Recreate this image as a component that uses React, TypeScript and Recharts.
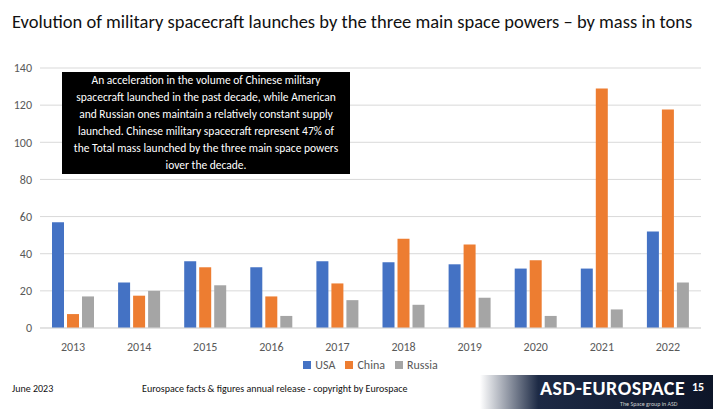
import React from "react";
import { BarChart, Bar, XAxis, YAxis, CartesianGrid, Legend } from "recharts";

const years = ["2013","2014","2015","2016","2017","2018","2019","2020","2021","2022"];
const usa = [57,24.5,36,32.7,36,35.4,34.3,32,32,52];
const china = [7.5,17.4,32.7,17,24,48,45,36.5,129,117.6];
const russia = [17,20,23,6.5,15,12.5,16.3,6.5,10,24.5];
const yTicks = [0,20,40,60,80,100,120,140];
const seriesNames = ["USA","China","Russia"];
const seriesColors = ["#4472C4","#ED7D31","#A5A5A5"];

const data = years.map((y, i) => ({ year: y, USA: usa[i], China: china[i], Russia: russia[i] }));

const LegendContent = () => (
  <div style={{ display: "flex", justifyContent: "center", gap: 10, fontSize: 12, color: "#595959", paddingLeft: 40 }}>
    {seriesNames.map((n, i) => (
      <span key={n} style={{ display: "flex", alignItems: "center", gap: 4 }}>
        <span style={{ width: 8, height: 8, background: seriesColors[i], display: "inline-block" }} />{n}
      </span>
    ))}
  </div>
);

export default function App() {
  const font = "Calibri, Carlito, 'Open Sans', Arial, sans-serif";
  return (
    <div style={{ position: "absolute", left: 0, top: 0, width: 713, height: 409, background: "#fff", fontFamily: font, overflow: "hidden" }}>
      <div style={{ position: "absolute", left: 12, top: 10, fontSize: 18.5, color: "#111", whiteSpace: "nowrap" }}>
        Evolution of military spacecraft launches by the three main space powers – by mass in tons
      </div>
      <BarChart width={713} height={372} data={data} margin={{ top: 68, right: 12, left: 0, bottom: 0 }}
        style={{ position: "absolute", left: 0, top: 0 }} barGap={3} barSize={12}>
        <CartesianGrid vertical={false} stroke="#d9d9d9" />
        <XAxis dataKey="year" tickLine={false} axisLine={{ stroke: "#d9d9d9" }} tick={{ fill: "#595959", fontSize: 12 }} tickMargin={8} />
        <YAxis ticks={yTicks} domain={[0, 140]} width={40} tickLine={false} axisLine={false} tick={{ fill: "#595959", fontSize: 12 }} />
        <Legend verticalAlign="bottom" content={<LegendContent />} />
        <Bar dataKey="USA" fill={seriesColors[0]} isAnimationActive={false} />
        <Bar dataKey="China" fill={seriesColors[1]} isAnimationActive={false} />
        <Bar dataKey="Russia" fill={seriesColors[2]} isAnimationActive={false} />
      </BarChart>
      <div style={{ position: "absolute", left: 62, top: 72, width: 288, height: 102, background: "#000", color: "#fff", fontSize: 11.5, lineHeight: "17px", textAlign: "center", display: "flex", alignItems: "center", justifyContent: "center", padding: "0 8px", boxSizing: "border-box" }}>
        An acceleration in the volume of Chinese military spacecraft launched in the past decade, while American and Russian ones maintain a relatively constant supply launched. Chinese military spacecraft represent 47% of the Total mass launched by the three main space powers iover the decade.
      </div>
      <div style={{ position: "absolute", left: 12, top: 382, fontSize: 10, color: "#111" }}>June 2023</div>
      <div style={{ position: "absolute", left: 142, top: 382, fontSize: 10, color: "#111" }}>Eurospace facts &amp; figures annual release - copyright by Eurospace</div>
      <div style={{ position: "absolute", left: 480, top: 375, width: 233, height: 34, background: "linear-gradient(90deg, #fff 0%, #1d2a45 25%, #0d1528 100%)" }} />
      <div style={{ position: "absolute", left: 540, top: 376, fontSize: 20, color: "#fff", fontWeight: 600, letterSpacing: 0.5 }}>ASD-EUROSPACE</div>
      <div style={{ position: "absolute", left: 620, top: 400, fontSize: 6, color: "#ccc" }}>The Space group in ASD</div>
      <div style={{ position: "absolute", left: 692, top: 380, fontSize: 12, color: "#fff", fontWeight: 600 }}>15</div>
    </div>
  );
}
